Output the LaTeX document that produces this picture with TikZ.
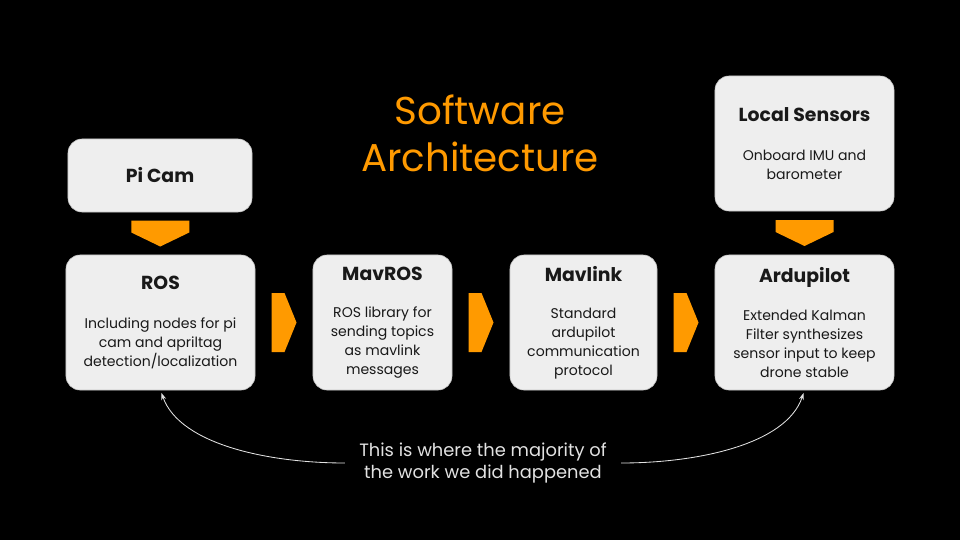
\documentclass[tikz,border=0pt]{standalone}
\usepackage{fontspec}
\setmainfont{Poppins}
\usetikzlibrary{calc,arrows.meta}

\definecolor{boxgray}{HTML}{EEEEEE}
\definecolor{boxline}{HTML}{C4C4C4}
\definecolor{accent}{HTML}{FF9A00}
\definecolor{notegray}{HTML}{E2E2E2}

\newcommand\boxhead[1]{{\fontsize{13.4}{16}\selectfont\bfseries #1}}

\tikzset{
  box/.style={fill=boxgray, draw=boxline, line width=0.4pt, rounded corners=10pt,
    align=center, inner sep=0pt, text=black!90, font=\fontsize{10}{13.4}\selectfont},
  title/.style={text=accent, align=center, font=\fontsize{27.6}{33.5}\selectfont},
  note/.style={text=notegray, align=center, inner xsep=10pt, font=\fontsize{12.7}{15.6}\selectfont},
  chev/.style={fill=accent},
  link/.style={draw=notegray, line width=0.6pt, -{Stealth[length=5pt,width=3.5pt]}, shorten >=2pt}
}

\begin{document}
\begin{tikzpicture}[x=0.025cm,y=-0.025cm]
% Background
\fill[black] (0,0) rectangle (960,540);

% Title
\node[title] (title) at (480,133.5) {Software\\Architecture};

% Boxes
\node[box, minimum width=4.6cm, minimum height=1.825cm] (picam) at (160,175.5) {\boxhead{Pi Cam}};
\node[box, minimum width=4.725cm, minimum height=3.375cm] (ros) at (160.5,322.5)
  {\boxhead{ROS}\\[14pt]Including nodes for pi\\cam and apriltag\\detection/localization};
\node[box, minimum width=3.475cm, minimum height=3.375cm] (mavros) at (382.5,322.5)
  {\boxhead{MavROS}\\[13.5pt]ROS library for\\sending topics\\as mavlink\\messages};
\node[box, minimum width=3.675cm, minimum height=3.375cm] (mavlink) at (583.5,322.5)
  {\boxhead{Mavlink}\\[13.5pt]Standard\\ardupilot\\communication\\protocol};
\node[box, minimum width=4.475cm, minimum height=3.375cm] (ardu) at (804.5,322.5)
  {\boxhead{Ardupilot}\\[13.5pt]Extended Kalman\\Filter synthesizes\\sensor input to keep\\drone stable};
\node[box, minimum width=4.475cm, minimum height=3.375cm] (sensors) at (804.5,143.5)
  {\boxhead{Local Sensors}\\[14pt]Onboard IMU and\\barometer};

% Orange chevrons
\foreach \a/\b in {ros/mavros, mavros/mavlink, mavlink/ardu}
  \fill[chev] ($(\a.east)!0.5!(\b.west)$) ++(-12.5,-29.5) -- ++(13,0) -- ++(12,29.5)
    -- ++(-12,29.5) -- ++(-13,0) -- cycle;
\foreach \a/\b in {picam/ros, sensors/ardu}
  \fill[chev] ($(\a.south)!0.5!(\b.north)$) ++(-29,-13) -- ++(58,0) -- ++(0,12)
    -- ++(-29,14) -- ++(-29,-14) -- cycle;

% Note and its arrows
\node[note] (note) at (483,463) {This is where the majority of\\the work we did happened};
\draw[link] (note.west) .. controls (270,463) and (180,445) .. (ros.south);
\draw[link] (note.east) .. controls (696,463) and (786,445) .. (ardu.south);
\end{tikzpicture}
\end{document}
